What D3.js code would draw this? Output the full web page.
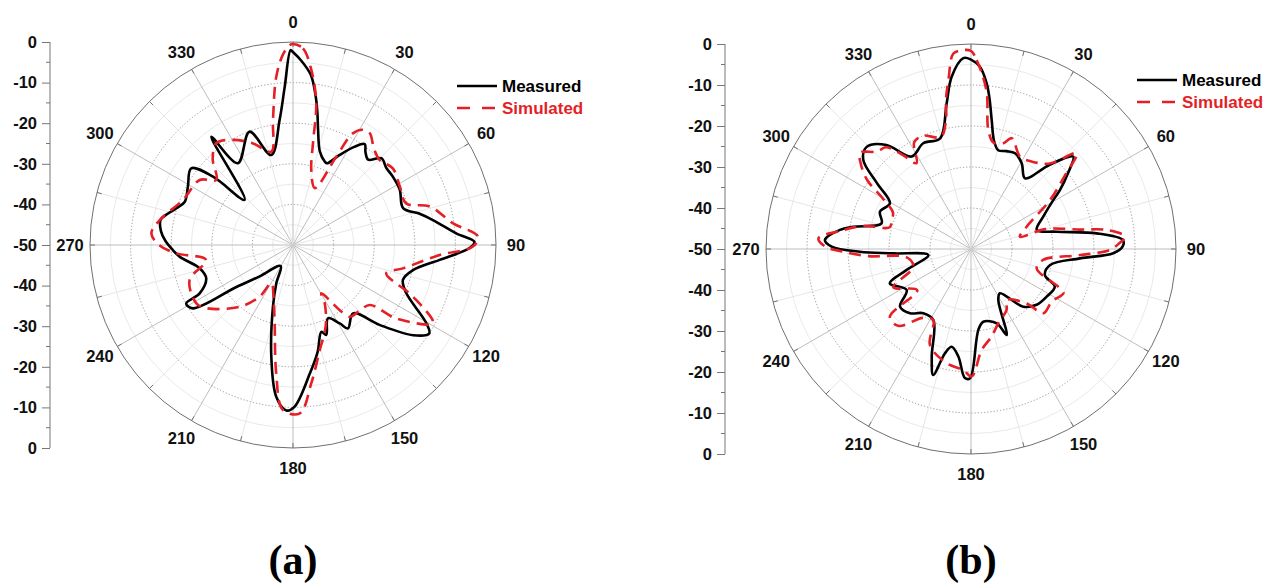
<!DOCTYPE html>
<html>
<head>
<meta charset="utf-8">
<script src="https://cdn.jsdelivr.net/npm/d3@7/dist/d3.min.js"></script>
<style>
  body { margin: 0; background: #fff; }
  svg { display: block; }
  text { font-family: "Liberation Sans", Arial, sans-serif; font-weight: bold; }
</style>
</head>
<body>
<svg id="chart" width="1270" height="588"></svg>
<script>
// angle labels (deg, clockwise from top) and radial dB scale
const angleTicks = [0, 30, 60, 90, 120, 150, 180, 210, 240, 270, 300, 330];
const dbTicks = [0, -10, -20, -30, -40, -50];
const seriesNames = ["Measured", "Simulated"];
const panelLabels = ["(a)", "(b)"];

// (a) [angle, dB]
const measuredA = [[0,-2.5],[2.5,-4.5],[6,-7.9],[8.7,-13],[10.5,-17],[12.3,-21],[16,-26],[20.8,-28],[22.6,-28.2],
  [27.4,-25],[32,-21.5],[35.4,-19.5],[38,-21],[41.4,-22],[45.5,-19.5],[50.6,-20.2],[55.7,-20.2],[62.7,-20.4],
  [71.5,-21.4],[76,-18],[79.9,-15],[85.9,-9.7],[89,-5.3],[91,-6.5],[95.8,-13.7],[101.8,-19.8],[107.6,-21.6],
  [113,-19.7],[120.4,-11.9],[123,-10],[126.9,-13],[132.7,-21],[138.7,-27.6],[146.6,-25.4],[149.2,-27.5],
  [154.5,-30],[159.7,-26.4],[161.9,-27.5],[167,-23],[172.6,-18],[179.4,-10.2],[182.3,-9.2],[186.3,-12.4],
  [191,-22],[198,-34],[203.5,-39.7],[210.4,-44],[227,-38.6],[233.5,-32.5],[237.7,-20.8],[241.3,-20],
  [242.6,-24.1],[249,-27.1],[256,-26.3],[264,-22],[268,-20.2],[272,-18.5],[276,-17.3],[280.7,-16.8],
  [284,-18.2],[287.5,-19.9],[291.8,-21.3],[299,-20.4],[307,-18.6],[310.5,-24.1],[313,-33.7],[323,-16.6],
  [326,-25.7],[339,-20.1],[346.4,-27.2],[353.9,-19],[357,-11],[359.3,-2]];
const simulatedA = [[0,-0.5],[2.9,-1.5],[6,-6.7],[9.3,-14.6],[11,-24],[13.7,-31],[21,-35],[26.1,-25.8],
  [28.2,-18.8],[31.3,-16.8],[34.5,-16.6],[40,-19],[45.6,-20.1],[52.5,-19],[61.3,-20],[69.8,-20.3],[74.3,-15],
  [82.3,-10.2],[87.4,-4.4],[90.5,-5.7],[93.9,-13.8],[102,-22.3],[106.9,-26],[113.3,-17.8],[119.2,-10.5],
  [125.4,-18.8],[128,-26],[135,-27],[141.7,-27.5],[149.6,-36.2],[151.5,-33.6],[158,-28.5],[165.7,-23.3],
  [172.5,-15.6],[177.7,-8.5],[183.5,-9.3],[187.4,-18],[193.2,-30.2],[200,-36],[209.5,-39.2],[212.8,-34.9],
  [220.8,-29.9],[233.9,-23.6],[238.9,-22.2],[251.3,-23.1],[260.2,-28.3],[265.9,-21.2],[270,-17],[274.7,-15],
  [280.6,-16.6],[292.2,-20.7],[304.9,-22],[310.3,-25.2],[317,-21],[323,-18.6],[330.3,-20.2],[338.5,-23.1],
  [346.9,-26.4],[350.9,-18.8],[354.3,-8.4],[357,-3],[359,-0.8]];

// (b) [angle, dB]
const measuredB = [[0,-3.8],[2.8,-5.5],[5.4,-9.4],[7,-13],[9.1,-18.1],[12,-23],[15.4,-25],[20,-24.6],
  [24.7,-24.3],[30.6,-25.7],[37.4,-28.3],[43,-22],[47.9,-16.4],[52,-20],[56.5,-24],[59.2,-26.6],[65.9,-30.7],
  [73.9,-33.3],[78.6,-28.7],[82.9,-19.1],[86.6,-12.9],[89,-13],[91.7,-15.3],[94.9,-23.3],[101.4,-30.3],
  [109.4,-30.9],[114.2,-27.6],[122.2,-28.2],[130.4,-29],[137.8,-31],[146.8,-37.1],[151.8,-35.9],[157.5,-27.3],
  [160.9,-30.8],[170.4,-32],[174.8,-30.2],[180.4,-18.5],[182.7,-18.5],[186.7,-23.6],[191.2,-25.7],[194,-23.8],
  [196.7,-17.9],[200,-22],[207.9,-30.4],[216.6,-30.5],[223.5,-28.4],[230.9,-27.7],[237.5,-31.4],[247,-28.5],
  [252,-33.5],[262,-39.5],[266.8,-31],[268.6,-22.9],[271,-16],[273.5,-14.3],[278.3,-17.7],[280.7,-20.8],
  [286,-27.3],[292.3,-26],[299.4,-27.3],[305,-22],[309.6,-15.9],[314.4,-14.4],[320.9,-17.3],[327.3,-23.2],
  [335.7,-21.7],[344.4,-22],[350.5,-14],[353.6,-7.7],[357.7,-3.4]];
const simulatedB = [[0,-1.7],[1.7,-3.9],[3.5,-7],[5.8,-11.8],[8.3,-20.7],[12,-23.5],[17,-23],[20.2,-21.2],
  [28,-24.5],[35,-24],[42.7,-21.6],[47.8,-15.2],[52,-21],[58.2,-27.3],[68.2,-35.4],[76,-37.7],[75,-31.3],
  [79.9,-23],[82,-16.6],[85.4,-12.3],[88,-14],[90.4,-16.1],[93.2,-23.4],[98.6,-32.2],[106.4,-33.3],
  [113.8,-26.3],[115.6,-25],[123,-26.5],[131.6,-26.4],[134.3,-31],[145,-34.8],[149.7,-32.8],[159.8,-30.7],
  [167,-28],[174,-25.2],[179.7,-18.9],[183.6,-20.4],[192,-21.5],[203.1,-24.5],[208,-30.4],[215,-29.5],
  [223.4,-24.2],[230.1,-24.2],[232.6,-33.5],[243.8,-28.9],[252.9,-35.3],[262.6,-34.2],[266,-25],[268.8,-18.9],
  [270.9,-14.5],[274,-12.7],[278,-18],[282,-23],[285,-29.5],[290,-29.4],[295,-29],[300,-25],[303.6,-19.6],
  [308,-15.8],[311,-14.2],[316,-17],[320,-17.6],[324,-21.6],[327.6,-25.2],[332,-20.5],[337,-20],[345,-21.7],
  [349,-18],[350.5,-13],[352.4,-8.4],[354.8,-2.2],[357,-1.5]];

const colors = {Measured: "#000", Simulated: "#e41f26"};

const panels = [
  {cx: 293, cy: 245, R: 203, axisX: 50, legX: 457, legY: 86, label: panelLabels[0],
   series: {Measured: measuredA, Simulated: simulatedA}},
  {cx: 971, cy: 249, R: 205, axisX: 725, legX: 1137, legY: 80, label: panelLabels[1],
   series: {Measured: measuredB, Simulated: simulatedB}}
];

const svg = d3.select("#chart");
const rad = d => d * Math.PI / 180;

panels.forEach(drawPanel);

function drawPanel(p) {
  const r = d3.scaleLinear().domain([-50, 0]).range([0, p.R]);
  const g = svg.append("g").attr("transform", `translate(${p.cx},${p.cy})`);

  // rings: light every 5 dB, dotted every 10 dB
  const rings = d3.range(-45, 0, 5);
  g.selectAll(".ring").data(rings).enter().append("circle")
      .attr("r", d => r(d))
      .attr("fill", "none")
      .attr("stroke", d => d % 10 === 0 ? "#8a8a8a" : "#e3e3e3")
      .attr("stroke-width", d => d % 10 === 0 ? 0.9 : 0.8)
      .attr("stroke-dasharray", d => d % 10 === 0 ? "1.2,2" : null);

  // spokes every 15 deg
  const spokes = d3.range(0, 360, 15);
  g.selectAll(".spoke").data(spokes).enter().append("line")
      .attr("x1", 0).attr("y1", 0)
      .attr("x2", d => r(0) * Math.sin(rad(d)))
      .attr("y2", d => -r(0) * Math.cos(rad(d)))
      .attr("stroke", d => d % 30 === 0 ? "#b5b5b5" : "#e3e3e3")
      .attr("stroke-width", 0.9);

  // outer circle + rim ticks
  g.append("circle").attr("r", r(0)).attr("fill", "none")
      .attr("stroke", "#707070").attr("stroke-width", 1);
  g.selectAll(".rimtick").data(spokes).enter().append("line")
      .attr("x1", d => (r(0) - 5) * Math.sin(rad(d)))
      .attr("y1", d => -(r(0) - 5) * Math.cos(rad(d)))
      .attr("x2", d => r(0) * Math.sin(rad(d)))
      .attr("y2", d => -r(0) * Math.cos(rad(d)))
      .attr("stroke", "#707070").attr("stroke-width", 1);

  // angle labels
  g.selectAll(".alabel").data(angleTicks).enter().append("text")
      .attr("x", d => (p.R + 20) * Math.sin(rad(d)))
      .attr("y", d => -(p.R + 20) * Math.cos(rad(d)))
      .attr("dy", "0.35em")
      .attr("text-anchor", "middle")
      .attr("font-size", 16.5)
      .attr("fill", "#111")
      .text(d => d);

  // curves
  const line = d3.lineRadial()
      .angle(d => rad(d[0]))
      .radius(d => r(d[1]))
      .curve(d3.curveCatmullRomClosed.alpha(0.5));

  seriesNames.forEach(name => {
    g.append("path")
        .attr("d", line(p.series[name]))
        .attr("fill", "none")
        .attr("stroke", colors[name])
        .attr("stroke-width", 2.6)
        .attr("stroke-linejoin", "round")
        .attr("stroke-dasharray", name === "Simulated" ? "12,7" : null);
  });

  // left dB axis: 0 at top, -50 at centre, 0 at bottom
  const y = d3.scaleLinear().domain([0, 100]).range([p.cy - p.R, p.cy + p.R]);
  const toDb = v => -(50 - Math.abs(v - 50));
  const major = d3.range(0, 101, 10);
  const minor = d3.range(5, 100, 10);
  const ax = svg.append("g").attr("transform", `translate(${p.axisX},0)`);
  ax.call(d3.axisLeft(y).tickValues(major).tickSize(8).tickPadding(5)
      .tickFormat(v => String(toDb(v)) === "-0" ? "0" : String(toDb(v))));
  ax.selectAll(".minor").data(minor).enter().append("line")
      .attr("class", "minor")
      .attr("x1", -4).attr("x2", 0)
      .attr("y1", d => y(d)).attr("y2", d => y(d))
      .attr("stroke", "#777");
  ax.select(".domain").attr("stroke", "#777").attr("d", `M0,${y(0)}V${y(100)}`);
  ax.selectAll(".tick line").attr("stroke", "#777");
  ax.selectAll(".tick text")
      .attr("font-family", "Liberation Sans, Arial, sans-serif")
      .attr("font-weight", "bold")
      .attr("font-size", 16.5)
      .attr("fill", "#111");

  // legend
  const leg = svg.append("g").attr("transform", `translate(${p.legX},${p.legY})`);
  seriesNames.forEach((name, i) => {
    leg.append("line")
        .attr("x1", 0).attr("x2", 40)
        .attr("y1", i * 22).attr("y2", i * 22)
        .attr("stroke", colors[name]).attr("stroke-width", 2.6)
        .attr("stroke-dasharray", name === "Simulated" ? "13,12" : null);
    leg.append("text")
        .attr("x", 45).attr("y", i * 22).attr("dy", "0.35em")
        .attr("font-size", 17)
        .attr("fill", colors[name])
        .text(name);
  });

  // panel label
  svg.append("text")
      .attr("x", p.cx).attr("y", 574)
      .attr("text-anchor", "middle")
      .style("font-family", "Liberation Serif, Times New Roman, serif")
      .style("font-size", "42px")
      .style("font-weight", "bold")
      .text(p.label);
}
</script>
</body>
</html>
